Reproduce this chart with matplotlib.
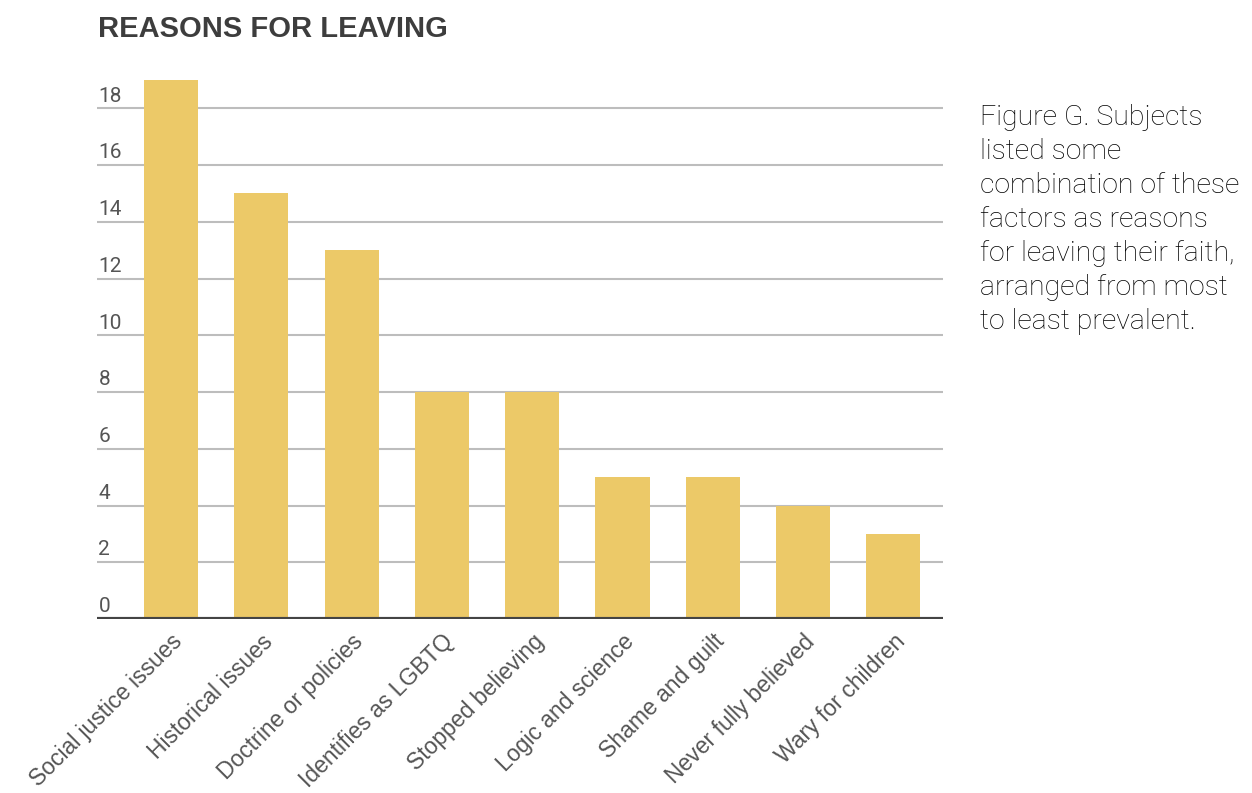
import matplotlib.pyplot as plt
from matplotlib.transforms import offset_copy

# data
reasons = ['Social justice issues', 'Historical issues', 'Doctrine or policies',
           'Identifies as LGBTQ', 'Stopped believing', 'Logic and science',
           'Shame and guilt', 'Never fully believed', 'Wary for children']
counts = [19, 15, 13, 8, 8, 5, 5, 4, 3]
yticks = [0, 2, 4, 6, 8, 10, 12, 14, 16, 18]

fig = plt.figure(figsize=(12.52, 7.93), dpi=100)
ax = fig.add_axes([97 / 1252, 1 - 619 / 793, (943 - 97) / 1252, (619 - 80) / 793])

x = list(range(len(reasons)))
ax.bar(x, counts, width=0.6, color='#ECC968', zorder=2)

ax.set_xlim(-0.82, 8.55)
ax.set_ylim(0, 19)

# grid lines
for v in yticks[1:]:
    ax.axhline(v, color='#bdbdbd', lw=1.5, zorder=1)
ax.axhline(0, color='#444444', lw=3, zorder=3)

for s in ax.spines.values():
    s.set_visible(False)
ax.set_yticks([])
ax.set_xticks(x)
ax.set_xticklabels(reasons, rotation=45, ha='right', rotation_mode='anchor',
                   fontsize=16.5, color='#555555', family='Liberation Sans')
ax.tick_params(axis='x', length=0, pad=8)

# y labels sit above the grid lines
trans = offset_copy(ax.get_yaxis_transform(), fig=fig, x=1, y=2, units='points')
for v in yticks:
    ax.text(0, v, str(v), transform=trans, ha='left', va='bottom',
            fontsize=15, color='#555555', family='Roboto')

fig.text(98 / 1252, 1 - 29 / 793, 'REASONS FOR LEAVING', fontsize=21,
         fontweight='bold', color='#3d3d3d', va='center', family='Liberation Sans')

fig.text(980 / 1252, 1 - 104 / 793,
         'Figure G. Subjects\nlisted some\ncombination of these\nfactors as reasons\n'
         'for leaving their faith,\narranged from most\nto least prevalent.',
         fontsize=20.5, color='#000000', va='top', ha='left', linespacing=1.33,
         family='Roboto', fontweight='light')

fig.savefig('out.png', dpi=100)
